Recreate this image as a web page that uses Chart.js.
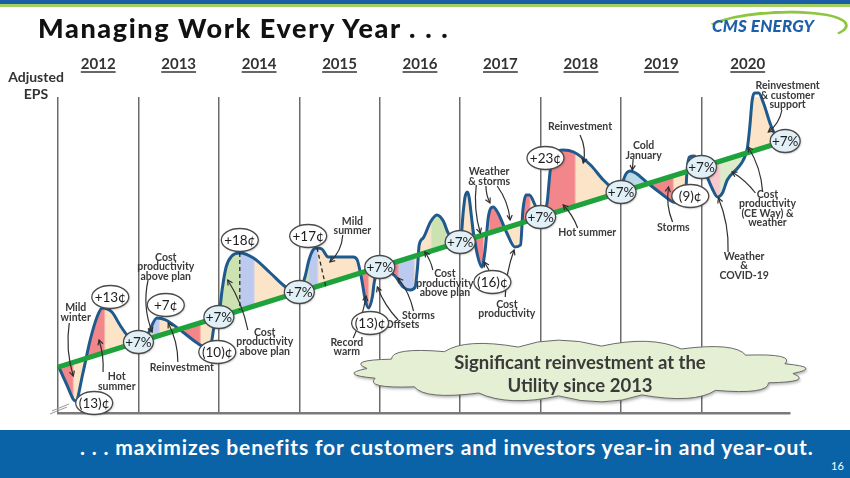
<!DOCTYPE html>
<html lang="en">
<head>
<meta charset="UTF-8">
<title>Managing Work Every Year</title>
<script src="https://cdn.jsdelivr.net/npm/chart.js@4.4.1/dist/chart.umd.min.js"></script>
<style>
    body { margin: 0; }
    #slide { position: relative; width: 850px; height: 478px; overflow: hidden; background: #fff; font-family: Lato, "Open Sans", sans-serif; }
    #chart { position: absolute; left: 0; top: 0; }
    .bar-blue { position: absolute; left: 0; top: 0; width: 850px; height: 4px; background: #1a5ea6; }
    .bar-green { position: absolute; left: 0; top: 4px; width: 850px; height: 3px; background: #a3cf62; }
    .title { position: absolute; left: 38px; top: 12px; font-weight: 900; font-size: 27px; line-height: 32px; letter-spacing: 1.6px; color: #111; white-space: nowrap; }
    .eps { position: absolute; left: 0; top: 68px; width: 72px; text-align: center; font-weight: 700; font-size: 14px; line-height: 17px; color: #333; }
    .swoosh { position: absolute; left: 702px; top: 11px; width: 140px; height: 30px; border: 3px solid transparent; border-top-color: #8dc63f; border-right-color: #8dc63f; border-radius: 50%; transform: rotate(-3deg); }
    .logo { position: absolute; left: 712px; top: 16px; font-weight: 900; font-style: italic; font-size: 17px; line-height: 20px; color: #1e5fa9; white-space: nowrap; letter-spacing: 0.2px; }
    .banner { position: absolute; left: 0; top: 430px; width: 850px; height: 48px; background: #0b63a7; }
    .tagline { position: absolute; left: 80px; top: 434px; font-weight: 700; font-size: 21px; line-height: 25px; letter-spacing: 0.85px; color: #fff; white-space: nowrap; }
    .page { position: absolute; left: 831px; top: 459px; font-size: 11px; line-height: 13px; color: #fff; }
</style>
</head>
<body>
<div id="slide">
    <canvas id="chart" width="850" height="478"></canvas>
    <div class="bar-blue"></div>
    <div class="bar-green"></div>
    <div class="title">Managing Work Every Year . . .</div>
    <div class="swoosh"></div>
    <div class="logo">CMS ENERGY</div>
    <div class="eps">Adjusted<br>EPS</div>
    <div class="banner"></div>
    <div class="tagline">. . . maximizes benefits for customers and investors year-in and year-out.</div>
    <div class="page">16</div>
</div>

<script>
// years shown across the top
const years = [2012, 2013, 2014, 2015, 2016, 2017, 2018, 2019, 2020];

// 7% growth trend line (relative EPS units)
const trendX = [2012, 2013, 2014, 2015, 2016, 2017, 2018, 2019, 2020, 2021.04];
const trendY = [53, 78, 103, 128, 153, 178, 203, 228, 253, 279];
const trendLabel = '+7%';

// actual adjusted EPS path
const epsX = [
    2012.01, 2012.10, 2012.22, 2012.31, 2012.40, 2012.49, 2012.55, 2012.67, 2012.77, 2012.87, 2013.00,
    2013.11, 2013.23, 2013.34, 2013.52, 2013.73, 2013.80, 2013.90, 2013.94, 2014.00,
    2014.04, 2014.09, 2014.16, 2014.26, 2014.43, 2014.64, 2014.85, 2015.00,
    2015.07, 2015.12, 2015.17, 2015.21, 2015.28, 2015.36, 2015.67, 2015.72, 2015.77, 2015.82, 2015.86, 2015.91, 2015.93, 2016.00,
    2016.09, 2016.19, 2016.29, 2016.38, 2016.44, 2016.47, 2016.49, 2016.54, 2016.63, 2016.71, 2016.79, 2016.85, 2016.94, 2017.00,
    2017.04, 2017.06, 2017.09, 2017.11, 2017.16, 2017.22, 2017.27, 2017.31, 2017.35, 2017.41, 2017.47, 2017.58, 2017.68, 2017.75, 2017.78, 2017.82, 2017.86, 2017.93, 2018.00,
    2018.08, 2018.12, 2018.18, 2018.28, 2018.41, 2018.62, 2018.78, 2018.89, 2019.00,
    2019.03, 2019.11, 2019.18, 2019.33, 2019.49, 2019.65, 2019.74, 2019.80, 2019.82, 2019.85, 2019.91, 2020.00,
    2020.02, 2020.07, 2020.13, 2020.20, 2020.26, 2020.32, 2020.45, 2020.52, 2020.57, 2020.60, 2020.63, 2020.66, 2020.71, 2020.77, 2020.86, 2020.92, 2021.04
];
const epsY = [
    53, 37, 19, 47, 80, 104, 112, 108, 95, 84, 78,
    85, 102, 100, 90, 77, 74, 76, 93, 103,
    130, 153, 164, 167, 162, 147, 132, 129,
    143, 160, 170, 172, 171, 163, 163, 160, 143, 120, 112, 124, 137, 153,
    150, 144, 133, 130, 133, 153, 175, 182, 198, 205, 199, 187, 178, 177,
    210, 223, 228, 223, 190, 163, 153, 170, 203, 213, 207, 187, 173, 175, 210, 225, 225, 215, 203,
    217, 250, 267, 270, 268, 255, 240, 232, 227,
    240, 249, 247, 237, 227, 218, 217, 223, 250, 263, 264, 253,
    250, 243, 232, 223, 227, 240, 252, 260, 272, 293, 320, 327, 327, 317, 295, 285, 279
];

// yearly deviation bubbles
const changeLabels = ['(13)¢', '+13¢', '+7¢', '(10)¢', '+18¢', '+17¢', '(13)¢', '(16)¢', '+23¢', '(9)¢'];
const changeX = [2012.45, 2012.65, 2013.34, 2013.98, 2014.26, 2015.11, 2015.88, 2017.40, 2018.06, 2019.86];
const changeY = [17, 123, 115, 68, 180, 184, 97, 138, 262, 224];

// driver notes
const noteText = ['Mild\nwinter', 'Hot\nsummer', 'Cost\nproductivity\nabove plan', 'Reinvestment',
    'Cost\nproductivity\nabove plan', 'Mild\nsummer', 'Record\nwarm', 'Offsets', 'Storms',
    'Cost\nproductivity\nabove plan', 'Weather\n& storms', 'Cost\nproductivity', 'Reinvestment',
    'Hot summer', 'Cold\nJanuary', 'Storms', 'Weather\n&\nCOVID-19', 'Cost\nproductivity\n(CE Way) &\nweather',
    'Reinvestment\n& customer\nsupport'];
const noteX = [2012.22, 2012.73, 2013.34, 2013.54, 2014.57, 2015.66, 2015.59, 2016.28, 2016.48, 2016.81,
    2017.36, 2017.58, 2018.49, 2018.58, 2019.28, 2019.65, 2020.53, 2020.82, 2021.07];
const noteY = [107.5, 38.5, 153, 52, 78, 194, 73, 95, 104, 136.5, 243.5, 111, 293, 187, 269.5, 192, 154, 211.5, 324.5];

const arrowFrom = [[2012.14, 97], [2012.56, 48], [2013.12, 140], [2013.49, 58], [2014.36, 90], [2015.54, 185],
    [2015.67, 82], [2016.23, 100], [2016.42, 109], [2016.66, 150], [2017.20, 235], [2017.32, 234], [2017.46, 234],
    [2017.56, 123], [2017.37, 148], [2018.49, 285], [2018.46, 192], [2019.15, 261], [2019.64, 198], [2020.33, 168],
    [2020.76, 228], [2020.67, 227], [2021.00, 310]];
const arrowTo = [[2012.19, 44], [2012.51, 80], [2013.17, 88], [2013.37, 97], [2014.11, 140], [2015.38, 158],
    [2015.83, 124], [2015.97, 133], [2016.23, 142], [2016.56, 168], [2017.25, 187], [2017.37, 217], [2017.62, 200],
    [2017.67, 170], [2017.30, 158], [2018.53, 257], [2018.28, 215], [2019.14, 250], [2019.59, 233], [2020.21, 222],
    [2020.58, 273], [2020.38, 248], [2020.83, 288]];
const arrowBend = [6, 3, 8, 5, 5, -6, 3, -4, 4, 2, 5, 2, -5, -4, 0, -5, 3, 0, -5, 6, 6, 3, -5];

const dashFrom = [[2014.26, 167], [2015.22, 172]];
const dashTo = [[2014.26, 110], [2015.33, 133]];

const cloudLines = ['Significant reinvestment at the', 'Utility since 2013'];

// fill colours between the EPS path and the trend, by x band
const RED = '#f2868b', BEIGE = '#fce4c9', GREEN = '#cde2b1', BLUE = '#bccaef', LBLUE = '#b9d9e7', PINK = '#f8c9cc', LGREEN = '#dcebc9';
const bandStart = [2012.00, 2012.19, 2012.35, 2012.58, 2013.12, 2013.18, 2013.26, 2013.57, 2013.77, 2014.00, 2014.26,
    2014.44, 2015.05, 2015.12, 2015.23, 2015.74, 2015.86, 2016.05, 2016.23, 2016.43, 2016.64, 2016.83, 2017.14, 2017.29,
    2017.36, 2017.56, 2017.76, 2017.87, 2018.05, 2018.43, 2019.02, 2019.39, 2019.65, 2020.01, 2020.23, 2020.56];
const bandColor = [RED, BEIGE, RED, BEIGE, GREEN, BLUE, BEIGE, RED, BEIGE, GREEN, BLUE,
    BEIGE, GREEN, BLUE, BEIGE, RED, BEIGE, RED, BLUE, BEIGE, GREEN, BEIGE, RED, BEIGE,
    RED, BEIGE, RED, BEIGE, RED, BEIGE, LBLUE, RED, BEIGE, PINK, LGREEN, BEIGE];

const FONT = 'Lato, "Open Sans", sans-serif';

function bandGradient(chart) {
    const area = chart.chartArea;
    if (!area) return 'rgba(0,0,0,0)';
    const x = chart.scales.x;
    const g = chart.ctx.createLinearGradient(area.left, 0, area.right, 0);
    const w = area.right - area.left;
    const frac = v => Math.min(1, Math.max(0, (x.getPixelForValue(v) - area.left) / w));
    bandStart.forEach((s, i) => {
        const e = i + 1 < bandStart.length ? bandStart[i + 1] : x.max;
        g.addColorStop(frac(s) + 0.0015, bandColor[i]);
        g.addColorStop(Math.max(frac(s) + 0.0016, frac(e) - 0.0015), bandColor[i]);
    });
    return g;
}

function drawArrow(ctx, x1, y1, x2, y2, bend) {
    const dx = x2 - x1, dy = y2 - y1, len = Math.hypot(dx, dy) || 1;
    const cx = (x1 + x2) / 2 - dy / len * bend, cy = (y1 + y2) / 2 + dx / len * bend;
    ctx.beginPath();
    ctx.moveTo(x1, y1);
    ctx.quadraticCurveTo(cx, cy, x2, y2);
    ctx.stroke();
    const a = Math.atan2(y2 - cy, x2 - cx);
    ctx.beginPath();
    ctx.moveTo(x2 - 5.5 * Math.cos(a - 0.5), y2 - 5.5 * Math.sin(a - 0.5));
    ctx.lineTo(x2, y2);
    ctx.lineTo(x2 - 5.5 * Math.cos(a + 0.5), y2 - 5.5 * Math.sin(a + 0.5));
    ctx.stroke();
}

function drawBubble(ctx, x, y, text, rx, fill) {
    ctx.save();
    ctx.shadowColor = 'rgba(0,0,0,0.25)';
    ctx.shadowBlur = 2;
    ctx.shadowOffsetX = 1;
    ctx.shadowOffsetY = 1;
    ctx.beginPath();
    ctx.ellipse(x, y, rx, 11.5, 0, 0, Math.PI * 2);
    ctx.fillStyle = fill;
    ctx.fill();
    ctx.restore();
    ctx.lineWidth = 1.3;
    ctx.strokeStyle = '#4a4a4a';
    ctx.stroke();
    ctx.fillStyle = '#1e1e1e';
    ctx.font = '13.5px ' + FONT;
    ctx.textAlign = 'center';
    ctx.textBaseline = 'middle';
    ctx.fillText(text, x, y + 0.5);
}

function drawCloud(ctx, cx, cy, rx, ry) {
    const n = 16;
    ctx.beginPath();
    for (let i = 0; i <= n; i++) {
        const a = i / n * Math.PI * 2 + 0.1;
        const px = cx + rx * Math.cos(a), py = cy + ry * Math.sin(a);
        if (i === 0) { ctx.moveTo(px, py); continue; }
        const m = (i - 0.5) / n * Math.PI * 2 + 0.1;
        ctx.quadraticCurveTo(cx + rx * 1.14 * Math.cos(m), cy + ry * 1.5 * Math.sin(m), px, py);
    }
    ctx.closePath();
    ctx.save();
    ctx.shadowColor = 'rgba(0,0,0,0.3)';
    ctx.shadowBlur = 3;
    ctx.shadowOffsetX = 1;
    ctx.shadowOffsetY = 2;
    ctx.fillStyle = '#e4efd3';
    ctx.fill();
    ctx.restore();
    ctx.lineWidth = 1;
    ctx.strokeStyle = '#6b6b6b';
    ctx.stroke();
}

const overlay = {
    id: 'overlay',
    afterDatasetsDraw(chart) {
        const ctx = chart.ctx, xs = chart.scales.x, ys = chart.scales.y;
        const X = v => xs.getPixelForValue(v), Y = v => ys.getPixelForValue(v);
        ctx.save();

        // year headers
        ctx.fillStyle = '#333';
        ctx.strokeStyle = '#333';
        ctx.font = 'bold 15px ' + FONT;
        ctx.textAlign = 'center';
        ctx.textBaseline = 'alphabetic';
        years.forEach(yr => {
            const cx = X((yr + Math.min(yr + 1, xs.max)) / 2) + (yr === 2020 ? 6 : 0);
            ctx.fillText(String(yr), cx, 69);
            const w = ctx.measureText(String(yr)).width;
            ctx.lineWidth = 1.5;
            ctx.beginPath();
            ctx.moveTo(cx - w / 2, 72);
            ctx.lineTo(cx + w / 2, 72);
            ctx.stroke();
        });

        // axis break marks
        ctx.strokeStyle = '#9a9a9a';
        ctx.lineWidth = 1;
        [[0, 0], [2, -3]].forEach(([dx, dy]) => {
            ctx.beginPath();
            ctx.moveTo(xs.left - 8 + dx, ys.bottom + 1 + dy);
            ctx.lineTo(xs.left + 9 + dx, ys.bottom - 6 + dy);
            ctx.stroke();
        });

        // dashed split lines
        ctx.strokeStyle = '#2a2a2a';
        ctx.lineWidth = 1.3;
        ctx.setLineDash([4, 3]);
        dashFrom.forEach((p, i) => {
            ctx.beginPath();
            ctx.moveTo(X(p[0]), Y(p[1]));
            ctx.lineTo(X(dashTo[i][0]), Y(dashTo[i][1]));
            ctx.stroke();
        });
        ctx.setLineDash([]);

        // arrows
        ctx.strokeStyle = '#2f2f2f';
        ctx.lineWidth = 1.2;
        arrowFrom.forEach((p, i) => {
            drawArrow(ctx, X(p[0]), Y(p[1]), X(arrowTo[i][0]), Y(arrowTo[i][1]), arrowBend[i]);
        });

        // notes
        ctx.fillStyle = '#3a3a3a';
        ctx.font = 'bold 10.5px ' + FONT;
        ctx.textAlign = 'center';
        ctx.textBaseline = 'middle';
        noteText.forEach((t, i) => {
            const lines = t.split('\n');
            const x = X(noteX[i]), y0 = Y(noteY[i]) - (lines.length - 1) * 9.4 / 2;
            lines.forEach((ln, k) => ctx.fillText(ln, x, y0 + k * 9.4));
        });

        // callout cloud
        drawCloud(ctx, 580, 371, 214, 25);
        ctx.fillStyle = '#3a3a3a';
        ctx.font = 'bold 18.5px ' + FONT;
        ctx.textBaseline = 'alphabetic';
        ctx.fillText(cloudLines[0], 580, 369);
        ctx.fillText(cloudLines[1], 580, 392);

        // +7% bubbles on the trend
        trendX.forEach((v, i) => {
            if (i === 0) return;
            drawBubble(ctx, X(v), Y(trendY[i]), trendLabel, 15, '#e1eff7');
        });
        // deviation bubbles
        changeLabels.forEach((t, i) => {
            drawBubble(ctx, X(changeX[i]), Y(changeY[i]), t, 18.5, '#ffffff');
        });

        ctx.restore();
    }
};

new Chart(document.getElementById('chart'), {
    type: 'line',
    data: {
        datasets: [{
            label: '7% growth',
            data: trendX.map((x, i) => ({ x: x, y: trendY[i] })),
            borderColor: '#1ea33c',
            borderWidth: 5,
            pointRadius: 0,
            tension: 0,
            fill: false,
            borderCapStyle: 'butt'
        }, {
            label: 'Adjusted EPS',
            data: epsX.map((x, i) => ({ x: x, y: epsY[i] })),
            borderColor: '#1f5a8e',
            borderWidth: 3,
            pointRadius: 0,
            cubicInterpolationMode: 'monotone',
            fill: 0,
            backgroundColor: c => bandGradient(c.chart),
            clip: false
        }]
    },
    options: {
        responsive: false,
        animation: false,
        events: [],
        layout: { padding: { left: 58, right: 60, top: 97, bottom: 65 } },
        plugins: { legend: { display: false }, tooltip: { enabled: false } },
        scales: {
            x: {
                type: 'linear',
                min: 2012,
                max: 2021.1,
                afterBuildTicks: s => { s.ticks = years.map(v => ({ value: v })); },
                ticks: { display: false },
                grid: { color: '#6b6b6b', lineWidth: 1.5, drawTicks: false },
                border: { color: '#7a7a7a', width: 2.5 }
            },
            y: { display: false, min: 7, max: 323 }
        }
    },
    plugins: [overlay]
});
</script>
</body>
</html>
